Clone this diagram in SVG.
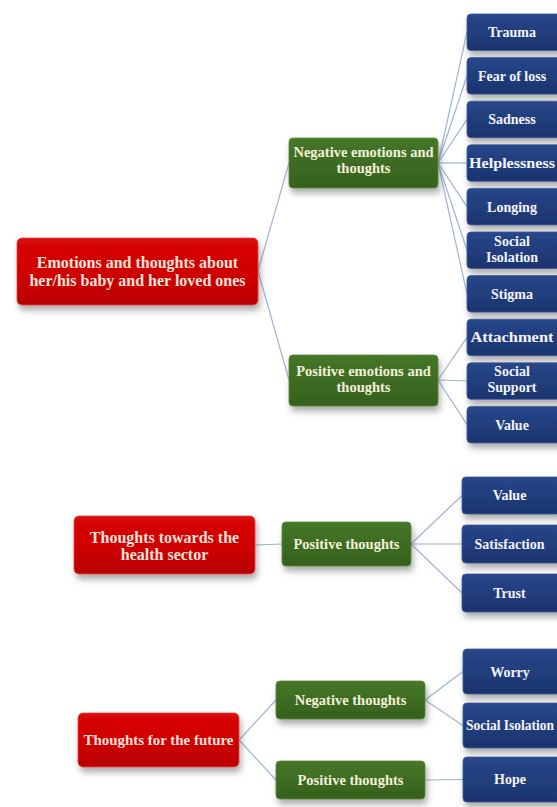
<svg xmlns="http://www.w3.org/2000/svg" width="557" height="807" viewBox="0 0 557 807">
<defs>
<linearGradient id="gRed" x1="0" y1="0" x2="0" y2="1"><stop offset="0" stop-color="#d80808"/><stop offset="0.5" stop-color="#d00000"/><stop offset="1" stop-color="#b80000"/></linearGradient>
<linearGradient id="gGreen" x1="0" y1="0" x2="0" y2="1"><stop offset="0" stop-color="#467628"/><stop offset="1" stop-color="#35611c"/></linearGradient>
<linearGradient id="gBlue" x1="0" y1="0" x2="0" y2="1"><stop offset="0" stop-color="#27478a"/><stop offset="1" stop-color="#1b346e"/></linearGradient>
<filter id="sh" x="-20%" y="-30%" width="140%" height="180%"><feDropShadow dx="2" dy="5" stdDeviation="3" flood-color="#4a4a4a" flood-opacity="0.45"/></filter>
</defs>
<style>
text{font-family:"Liberation Serif","Times New Roman",serif;font-weight:bold;text-anchor:middle}
.red rect{fill:url(#gRed);stroke:#e84a4a;stroke-width:0.8;filter:url(#sh)}
.green rect{fill:url(#gGreen);stroke:#5a8a3a;stroke-width:0.8;filter:url(#sh)}
.blue rect{fill:url(#gBlue);stroke:#3a5a9a;stroke-width:0.8;filter:url(#sh)}
.red text{fill:#f8e2da;font-size:16px}
.green text{fill:#f2f0da;font-size:14.5px}
.blue text{fill:#f4f4fa;font-size:14px}
#connectors line{stroke:#9fb4d2;stroke-width:1.2;fill:none}
</style>
<rect width="557" height="807" fill="#ffffff"/>
<g id="connectors">
<line x1="258" y1="271" x2="289" y2="163"/>
<line x1="258" y1="271" x2="289" y2="380"/>
<line x1="438" y1="163" x2="467" y2="32"/>
<line x1="438" y1="163" x2="467" y2="75.8"/>
<line x1="438" y1="163" x2="467" y2="119.4"/>
<line x1="438" y1="163" x2="467" y2="163"/>
<line x1="438" y1="163" x2="467" y2="206.6"/>
<line x1="438" y1="163" x2="467" y2="250.2"/>
<line x1="438" y1="163" x2="467" y2="293.8"/>
<line x1="438" y1="380" x2="467" y2="337.4"/>
<line x1="438" y1="380" x2="467" y2="381"/>
<line x1="438" y1="380" x2="467" y2="424.6"/>
<line x1="255" y1="545" x2="282" y2="544"/>
<line x1="411" y1="544" x2="462" y2="495.5"/>
<line x1="411" y1="544" x2="462" y2="544"/>
<line x1="411" y1="544" x2="462" y2="593"/>
<line x1="239" y1="740" x2="276" y2="700"/>
<line x1="239" y1="740" x2="276" y2="780"/>
<line x1="425" y1="700" x2="463" y2="671.5"/>
<line x1="425" y1="700" x2="463" y2="725.5"/>
<line x1="425" y1="780" x2="463" y2="779.5"/>
</g>
<g id="n-emotions" class="red"><rect x="17" y="238" width="241" height="67" rx="5"/><text x="137.5" y="268">Emotions and thoughts about</text><text x="137.5" y="286">her/his baby and her loved ones</text></g>
<g id="n-neg-emotions" class="green"><rect x="289" y="138" width="149" height="50" rx="4"/><text x="363.5" y="157">Negative emotions and</text><text x="363.5" y="173">thoughts</text></g>
<g id="n-pos-emotions" class="green"><rect x="289" y="355" width="149" height="51" rx="4"/><text x="363.5" y="376">Positive emotions and</text><text x="363.5" y="392">thoughts</text></g>
<g id="n-trauma" class="blue"><rect x="467" y="14" width="96" height="36.5" rx="4"/><text x="512" y="37">Trauma</text></g>
<g id="n-fear" class="blue"><rect x="467" y="57.6" width="96" height="36.5" rx="4"/><text x="512" y="80.8">Fear of loss</text></g>
<g id="n-sadness" class="blue"><rect x="467" y="101.2" width="96" height="36.5" rx="4"/><text x="512" y="124.4">Sadness</text></g>
<g id="n-helpless" class="blue"><rect x="467" y="144.8" width="96" height="36.5" rx="4"/><text x="512" y="168" textLength="86" lengthAdjust="spacingAndGlyphs">Helplessness</text></g>
<g id="n-longing" class="blue"><rect x="467" y="188.4" width="96" height="36.5" rx="4"/><text x="512" y="211.6">Longing</text></g>
<g id="n-isolation1" class="blue"><rect x="467" y="232" width="96" height="36.5" rx="4"/><text x="512" y="245.5">Social</text><text x="512" y="261.5">Isolation</text></g>
<g id="n-stigma" class="blue"><rect x="467" y="275.6" width="96" height="36.5" rx="4"/><text x="512" y="298.8">Stigma</text></g>
<g id="n-attachment" class="blue"><rect x="467" y="319.2" width="96" height="36.5" rx="4"/><text x="512" y="342.4" textLength="83" lengthAdjust="spacingAndGlyphs">Attachment</text></g>
<g id="n-support" class="blue"><rect x="467" y="362.8" width="96" height="36.5" rx="4"/><text x="512" y="376.3">Social</text><text x="512" y="392.3">Support</text></g>
<g id="n-value1" class="blue"><rect x="467" y="406.4" width="96" height="36.5" rx="4"/><text x="512" y="429.6">Value</text></g>
<g id="n-health" class="red"><rect x="74" y="516" width="181" height="58" rx="5"/><text x="164.5" y="543">Thoughts towards the</text><text x="164.5" y="560">health sector</text></g>
<g id="n-pos-health" class="green"><rect x="282" y="522" width="129" height="44" rx="4"/><text x="346.5" y="549">Positive thoughts</text></g>
<g id="n-value2" class="blue"><rect x="462" y="477" width="100" height="37" rx="4"/><text x="509.5" y="500">Value</text></g>
<g id="n-satisfaction" class="blue"><rect x="462" y="525" width="100" height="38" rx="4"/><text x="509.5" y="549">Satisfaction</text></g>
<g id="n-trust" class="blue"><rect x="462" y="574" width="100" height="38" rx="4"/><text x="509.5" y="598">Trust</text></g>
<g id="n-future" class="red"><rect x="78" y="713" width="161" height="54" rx="5"/><text x="158.5" y="745" style="font-size:15px" textLength="150" lengthAdjust="spacingAndGlyphs">Thoughts for the future</text></g>
<g id="n-neg-future" class="green"><rect x="276" y="681" width="149" height="38" rx="4"/><text x="350.5" y="705">Negative thoughts</text></g>
<g id="n-pos-future" class="green"><rect x="276" y="761" width="149" height="38" rx="4"/><text x="350.5" y="785">Positive thoughts</text></g>
<g id="n-worry" class="blue"><rect x="463" y="649" width="100" height="45" rx="4"/><text x="510" y="677">Worry</text></g>
<g id="n-isolation2" class="blue"><rect x="463" y="703" width="100" height="45" rx="4"/><text x="510" y="730" textLength="88" lengthAdjust="spacingAndGlyphs">Social Isolation</text></g>
<g id="n-hope" class="blue"><rect x="463" y="757" width="100" height="45" rx="4"/><text x="510" y="784">Hope</text></g>
</svg>
